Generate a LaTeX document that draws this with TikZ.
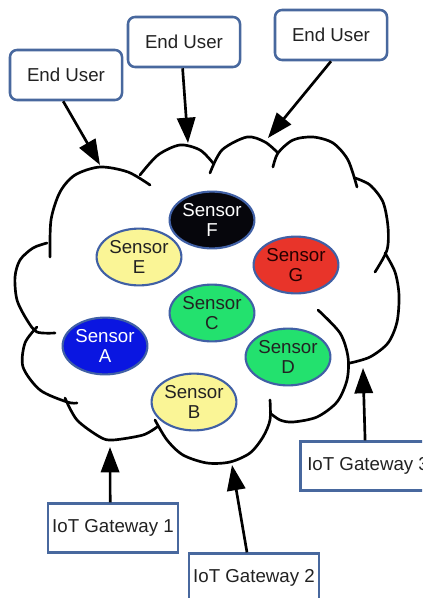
\documentclass[tikz,border=0pt]{standalone}
\usepackage{fontspec}
\setmainfont{Liberation Sans}
\usetikzlibrary{arrows.meta,shapes.geometric}

\definecolor{boxline}{RGB}{72,104,158}
\definecolor{ovalline}{RGB}{64,96,165}
\definecolor{textgray}{RGB}{34,34,34}
\definecolor{sensyellow}{RGB}{250,245,150}
\definecolor{sensgreen}{RGB}{35,225,110}
\definecolor{sensred}{RGB}{232,52,42}
\definecolor{sensblue}{RGB}{10,22,225}
\definecolor{sensblack}{RGB}{6,6,12}

\newcommand{\lblfont}{\fontsize{13.3pt}{14.6pt}\selectfont}

\tikzset{
  userbox/.style={draw=boxline, line width=1.8pt, rounded corners=5pt, fill=white,
    minimum width=2.8cm, minimum height=1.25cm, text=textgray, font=\lblfont},
  gatebox/.style={draw=boxline, line width=1.8pt, fill=white, inner sep=0pt,
    minimum width=3.25cm, minimum height=1.22cm, text=textgray, font=\lblfont},
  sensor/.style={ellipse, draw=ovalline, line width=1.5pt, inner sep=0pt,
    minimum width=2.12cm, minimum height=1.42cm, align=center, text=textgray, font=\lblfont},
  cloudline/.style={line width=1.9pt, line cap=round},
  pointer/.style={line width=1.9pt, -{Triangle[length=18pt,width=13pt]}},
}

\begin{document}
\begin{tikzpicture}[x=0.025cm, y=-0.025cm]
    \clip (0,0) rectangle (422,598);
    \fill[white] (0,0) rectangle (422,598);

    % cloud, one bump at a time
    \draw[cloudline] plot[smooth] coordinates {(150,185) (128,172) (100,167) (75,175) (60,192) (51,220) (50,257)};
    \draw[cloudline] plot[smooth] coordinates {(140,175) (158,155) (180,145) (200,150) (213,163)};
    \draw[cloudline] plot[smooth] coordinates {(210,173) (222,150) (247,137) (265,142) (278,153)};
    \draw[cloudline] plot[smooth] coordinates {(273,167) (278,153) (293,140) (313,137) (333,143) (348,160) (357,187)};
    \draw[cloudline] plot[smooth] coordinates {(355,178) (370,185) (383,202) (388,227) (387,250) (375,272)};
    \draw[cloudline] plot[smooth] coordinates {(385,253) (395,272) (399,295) (397,322) (388,343) (370,357) (350,363)};
    \draw[cloudline] plot[smooth] coordinates {(318,310) (340,333) (348,357) (347,380) (337,402) (317,417) (293,422) (280,420) (270,413)};
    \draw[cloudline] plot[smooth] coordinates {(270,400) (270,420) (263,437) (250,453) (230,462) (207,463) (183,455) (167,440) (155,420)};
    \draw[cloudline] plot[smooth] coordinates {(157,427) (143,435) (113,440) (100,437) (77,420) (65,398)};
    \draw[cloudline] plot[smooth] coordinates {(77,403) (67,402) (40,390) (23,367) (25,343) (37,327)};
    \draw[cloudline] plot[smooth] coordinates {(55,333) (37,332) (27,320) (17,300) (15,277) (20,260) (33,248) (47,243)};

    % sensors
    \node[sensor, fill=sensblack, text=white] (sensF) at (212,220) {Sensor\\F};
    \node[sensor, fill=sensyellow] (sensE) at (139,257) {Sensor\\E};
    \node[sensor, fill=sensred, text=black!85!red] (sensG) at (296,265) {Sensor\\G};
    \node[sensor, fill=sensgreen] (sensC) at (212,313) {Sensor\\C};
    \node[sensor, fill=sensblue, text=white] (sensA) at (105,346) {Sensor\\A};
    \node[sensor, fill=sensgreen] (sensD) at (288,357) {Sensor\\D};
    \node[sensor, fill=sensyellow] (sensB) at (194,402) {Sensor\\B};

    % users and gateways
    \node[userbox] (user1) at (66,75) {End User};
    \node[userbox] (user2) at (184,42) {End User};
    \node[userbox] (user3) at (331,35) {End User};
    \node[gatebox] (gw1) at (113,528) {IoT Gateway 1};
    \node[gatebox] (gw2) at (254,578) {IoT Gateway 2};
    \node[gatebox, anchor=west] (gw3) at (299,466) {\hspace{4pt}IoT Gateway 3\hspace{4pt}};

    % where the arrows hit the cloud
    \coordinate (hitU1) at (100,165);
    \coordinate (hitU2) at (188,143);
    \coordinate (hitU3) at (268,138);
    \coordinate (hitG1) at (110,447);
    \coordinate (hitG2) at (232,465);
    \coordinate (hitG3) at (363,368);

    \draw[pointer] ([xshift=-2pt]user1.south) -- (hitU1);
    \draw[pointer] ([xshift=-1pt]user2.south) -- (hitU2);
    \draw[pointer] (user3.south) -- (hitU3);
    \draw[pointer] ([xshift=-2pt]gw1.north) -- (hitG1);
    \draw[pointer] ([xshift=-5pt]gw2.north) -- (hitG2);
    \draw[pointer] ([xshift=47pt]gw3.north west) -- (hitG3);
\end{tikzpicture}
\end{document}
